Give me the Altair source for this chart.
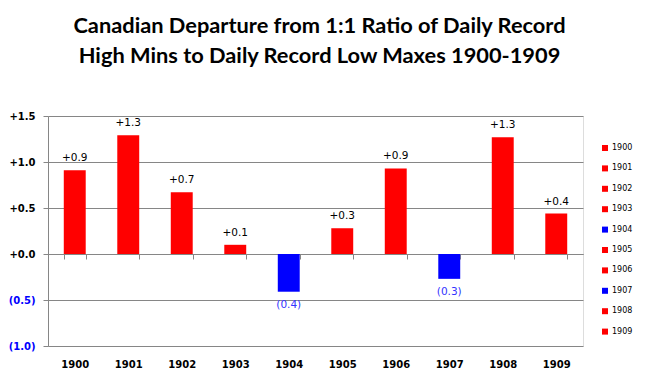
import altair as alt
import pandas as pd

years = ["1900", "1901", "1902", "1903", "1904", "1905", "1906", "1907", "1908", "1909"]
values = [0.91, 1.29, 0.67, 0.10, -0.41, 0.28, 0.93, -0.27, 1.27, 0.44]
bar_colors = ["#FF0000", "#FF0000", "#FF0000", "#FF0000", "#0000FF",
              "#FF0000", "#FF0000", "#0000FF", "#FF0000", "#FF0000"]
y_ticks = [-1.0, -0.5, 0.0, 0.5, 1.0, 1.5]
title_lines = ["Canadian Departure from 1:1 Ratio of Daily Record",
               "High Mins to Daily Record Low Maxes 1900-1909"]

df = pd.DataFrame({"Year": years, "Value": values})

GRAY = "#868686"

x_enc = alt.X(
    "Year:N", sort=years,
    scale=alt.Scale(paddingInner=0.59, paddingOuter=0.295),
    axis=alt.Axis(
        title=None, orient="bottom", offset=-92, labelAngle=0,
        domainColor=GRAY, tickColor=GRAY, tickSize=5, tickBand="extent",
        labelPadding=100, labelFont="DejaVu Sans", labelFontSize=10,
        labelFontWeight="bold", labelColor="#000000", grid=False,
    ),
)
y_enc = alt.Y(
    "Value:Q",
    scale=alt.Scale(domain=[-1.0, 1.5], nice=False, zero=False),
    axis=alt.Axis(
        title=None, values=y_ticks, grid=True, gridColor=GRAY,
        domainColor=GRAY, tickColor=GRAY, tickSize=5, labelPadding=8,
        labelFont="DejaVu Sans", labelFontSize=10, labelFontWeight="bold",
        labelExpr="datum.value < 0 ? '(' + format(-datum.value, '.1f') + ')' : '+' + format(datum.value, '.1f')",
        labelColor={"condition": {"test": "datum.value < 0", "value": "#0000FF"}, "value": "#000000"},
    ),
)

bars = alt.Chart(df).mark_bar().encode(
    x=x_enc,
    y=y_enc,
    y2=alt.datum(0),
    color=alt.Color(
        "Year:N", sort=years,
        scale=alt.Scale(domain=years, range=bar_colors),
        legend=alt.Legend(
            orient="none", legendX=553, legendY=28, title=None,
            symbolType="square", symbolSize=36, symbolStrokeWidth=0,
            labelFont="DejaVu Sans", labelFontSize=8, labelColor="#000000",
            rowPadding=12.4, labelOffset=3,
        ),
    ),
)

label_expr = "datum.Value >= 0 ? '+' + format(datum.Value, '.1f') : '(' + format(-datum.Value, '.1f') + ')'"

pos_labels = alt.Chart(df).transform_filter("datum.Value >= 0").transform_calculate(
    lab=label_expr
).mark_text(baseline="bottom", dy=-7, font="DejaVu Sans", fontSize=10.5, color="#000000").encode(
    x=alt.X("Year:N", sort=years), y="Value:Q", text="lab:N"
)

neg_labels = alt.Chart(df).transform_filter("datum.Value < 0").transform_calculate(
    lab=label_expr
).mark_text(baseline="top", dy=8, font="DejaVu Sans", fontSize=10.5, color="#3333FF").encode(
    x=alt.X("Year:N", sort=years), y="Value:Q", text="lab:N"
)

chart = alt.layer(bars, pos_labels, neg_labels).properties(
    width=535, height=230,
    title=alt.TitleParams(
        text=title_lines, font="Lato", fontSize=21.8, fontWeight="bold",
        color="#000000", anchor="middle", offset=43, lineHeight=30, dx=4,
    ),
    autosize=alt.AutoSizeParams(type="none"),
    padding={"left": 40, "top": 108, "right": 56, "bottom": 27},
).configure_view(stroke=None).configure(background="#FFFFFF")

chart.save("out.html", embed_options={"renderer": "svg", "actions": False})
